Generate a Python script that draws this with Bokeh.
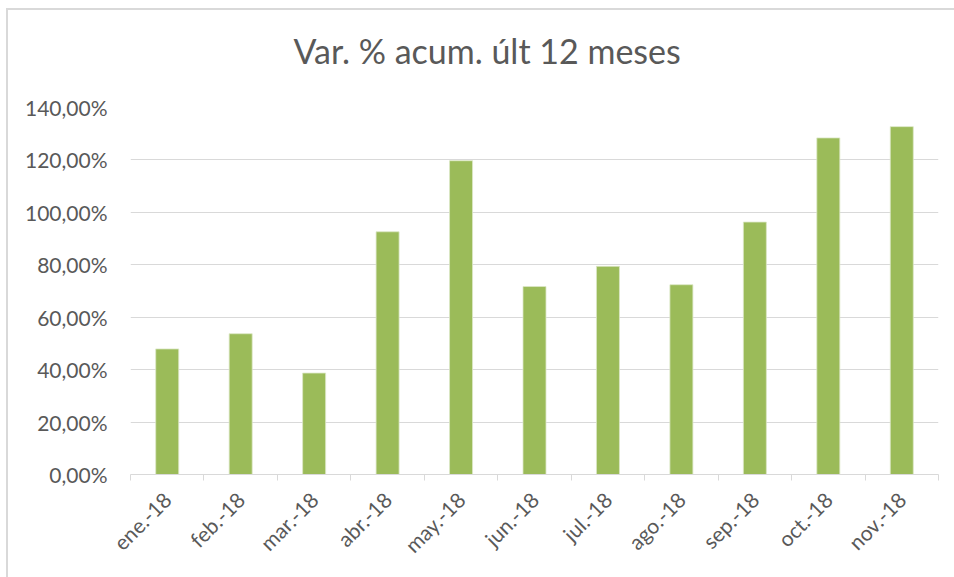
from bokeh.plotting import figure
from bokeh.models import FixedTicker, Range1d, Title
from bokeh.embed import file_html
from bokeh.resources import INLINE
import math

months = ["ene.-18", "feb.-18", "mar.-18", "abr.-18", "may.-18", "jun.-18",
          "jul.-18", "ago.-18", "sep.-18", "oct.-18", "nov.-18"]
values = [47.9, 53.7, 38.7, 92.6, 119.7, 71.7, 79.4, 72.4, 96.3, 128.4, 132.7]
y_ticks = [0, 20, 40, 60, 80, 100, 120, 140]
y_labels = ["0,00%", "20,00%", "40,00%", "60,00%", "80,00%", "100,00%", "120,00%", "140,00%"]
title_text = "Var. % acum. últ 12 meses"

FONT = "Lato"
GRAY = "#595959"

p = figure(width=948, height=569, output_backend="svg", toolbar_location=None, title=None,
           x_range=Range1d(0, len(months)), y_range=Range1d(0, 140),
           min_border_left=122, min_border_right=18, min_border_top=0, min_border_bottom=105)
p.styles = {"margin-left": "6px", "margin-top": "8px",
            "border-top": "2px solid #d9d9d9", "border-left": "2px solid #d9d9d9",
            "box-sizing": "border-box"}

# spacer between plot area and title
p.add_layout(Title(text=" ", text_font_size="1px", standoff=16), "above")
p.add_layout(Title(text=title_text, align="left", offset=163, standoff=35,
                   text_font=FONT, text_font_size="34px", text_font_style="normal",
                   text_color=GRAY), "above")

p.outline_line_color = None
p.xgrid.visible = False
p.ygrid.grid_line_color = "#d9d9d9"
p.ygrid.grid_line_width = 1

xc = [i + 0.5 for i in range(len(months))]
p.vbar(x=xc, top=values, width=0.313, bottom=0,
       fill_color="#9bbb59", line_color="#dce7c6", line_width=0.8)

# y axis
ya = p.yaxis[0]
ya.ticker = FixedTicker(ticks=y_ticks)
ya.major_label_overrides = {t: l for t, l in zip(y_ticks, y_labels)}
ya.axis_line_color = None
ya.major_tick_line_color = None
ya.minor_tick_line_color = None
ya.major_label_text_font = FONT
ya.major_label_text_font_size = "21px"
ya.major_label_text_color = GRAY
ya.major_label_standoff = 17

# x axis: labels at category centres, tick marks at category boundaries
xa = p.xaxis[0]
xa.ticker = FixedTicker(ticks=xc, minor_ticks=list(range(len(months) + 1)))
xa.major_label_overrides = {c: m for c, m in zip(xc, months)}
xa.axis_line_color = "#d9d9d9"
xa.axis_line_width = 1
xa.major_tick_line_color = None
xa.minor_tick_line_color = "#d9d9d9"
xa.minor_tick_out = 6
xa.minor_tick_in = 0
xa.major_label_orientation = math.pi / 4
xa.major_label_text_font = FONT
xa.major_label_text_font_size = "21px"
xa.major_label_text_color = GRAY
xa.major_label_standoff = 15

open("out.html", "w").write(file_html(p, INLINE))
